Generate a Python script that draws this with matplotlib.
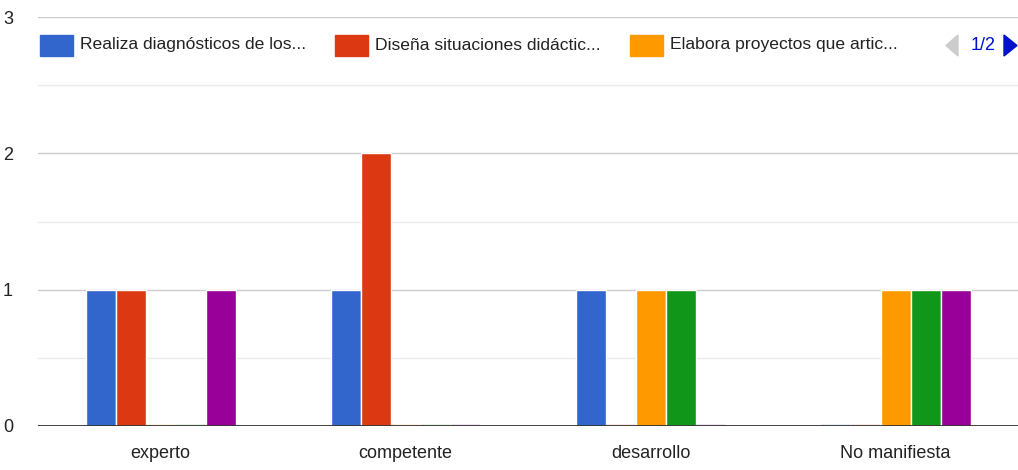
import matplotlib
matplotlib.use("Agg")
import matplotlib.pyplot as plt
import numpy as np
from matplotlib.patches import Rectangle, Polygon

plt.rcParams['font.family'] = ['Liberation Sans Narrow', 'Liberation Sans', 'DejaVu Sans']

categories = ["experto", "competente", "desarrollo", "No manifiesta"]
series_names = ["Realiza diagnósticos de los...", "Diseña situaciones didáctic...",
                "Elabora proyectos que artic..."]
colors = ["#3366cc", "#dc3912", "#ff9900", "#109618", "#990099"]

realiza = [1, 1, 1, 0]
disena = [1, 2, 0, 0]
elabora = [0, 0, 1, 1]
serie4 = [0, 0, 1, 1]
serie5 = [1, 0, 0, 1]
values = [realiza, disena, elabora, serie4, serie5]

fig = plt.figure(figsize=(10.18, 4.70), dpi=100)
ax = fig.add_axes([38 / 1018, 1 - 426 / 470, 980 / 1018, 409 / 470])

x = np.arange(len(categories))
bw = 30 / 245
for i, vals in enumerate(values):
    pos = x + (i - 2) * bw
    vals = np.array(vals)
    ax.bar(pos, vals, width=bw, color=colors[i], edgecolor="white", linewidth=1, zorder=3)
    # faint baseline stubs for zero values
    zero = vals == 0
    ax.bar(pos[zero], np.full(zero.sum(), 0.012), width=bw * 0.95, color=colors[i],
           alpha=0.12, linewidth=0, zorder=3)

ax.set_xlim(-0.5, len(categories) - 0.5)
ax.set_ylim(0, 3)
ax.set_yticks([0, 1, 2, 3])
ax.set_yticks([0.5, 1.5, 2.5], minor=True)
ax.grid(axis="y", which="major", color="#cccccc", linewidth=1, zorder=0)
ax.grid(axis="y", which="minor", color="#ebebeb", linewidth=1, zorder=0)
ax.axhline(0, color="#333333", linewidth=1.3, zorder=4)
ax.set_xticks(x)
ax.set_xticklabels(categories)
ax.tick_params(axis="both", which="both", length=0, labelsize=13, colors="#222222")
ax.tick_params(axis="y", pad=18)
ax.tick_params(axis="x", pad=14)
for s in ax.spines.values():
    s.set_visible(False)

# legend row (Google Charts style)
ly = 1 - 45 / 470
for i, (name, lx) in enumerate(zip(series_names, [40, 335, 630])):
    fig.patches.append(Rectangle((lx / 1018, 1 - 56 / 470), 33 / 1018, 21 / 470,
                                 transform=fig.transFigure, color=colors[i]))
    fig.text((lx + 40) / 1018, ly, name, fontsize=12.6, color="#222222", va="center")

# pager
fig.patches.append(Polygon([[958 / 1018, 1 - 35 / 470], [958 / 1018, 1 - 56 / 470],
                            [946 / 1018, 1 - 45.5 / 470]], closed=True,
                           transform=fig.transFigure, color="#cccccc"))
fig.text(983 / 1018, ly, "1/2", fontsize=13, color="#0011cc", va="center", ha="center")
fig.patches.append(Polygon([[1004 / 1018, 1 - 35 / 470], [1004 / 1018, 1 - 56 / 470],
                            [1017 / 1018, 1 - 45.5 / 470]], closed=True,
                           transform=fig.transFigure, color="#0011cc"))

fig.savefig("out.png", dpi=100, facecolor="white")
